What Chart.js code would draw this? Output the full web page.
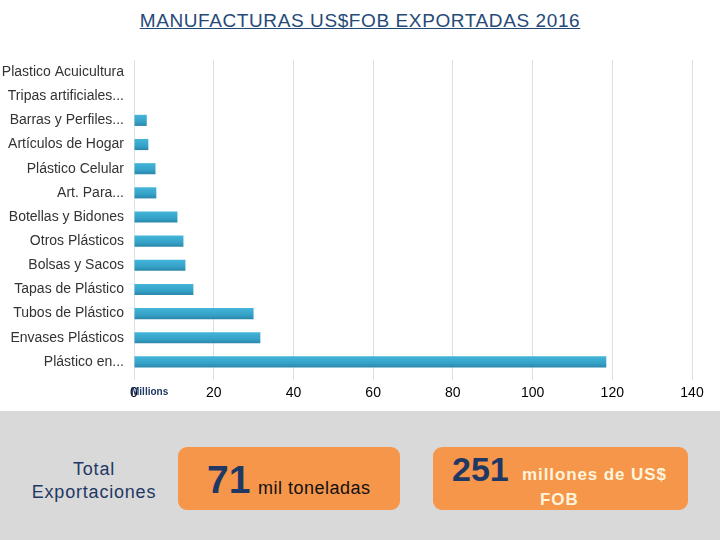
<!DOCTYPE html>
<html>
<head>
<meta charset="utf-8">
<script src="https://cdn.jsdelivr.net/npm/chart.js@4/dist/chart.umd.min.js"></script>
<style>
  body { margin:0; width:720px; height:540px; position:relative; overflow:hidden; background:#fff;
         font-family:"Liberation Sans", Arial, sans-serif; }
  #title { position:absolute; top:11px; left:0; width:720px; text-align:center; font-size:19px; line-height:19px;
           letter-spacing:0.6px; color:#254A78; text-decoration:underline; }
  #wrap { position:absolute; top:40px; left:0; width:720px; height:370px; }
  #bottom { position:absolute; top:411px; left:0; width:720px; height:129px; background:#D9D9D9; }
  .t { position:absolute; white-space:nowrap; }
  .box { position:absolute; top:447px; height:63px; background:#F6964A; border-radius:9px; }
</style>
</head>
<body>
<div id="title">MANUFACTURAS US$FOB EXPORTADAS 2016</div>
<div id="wrap"><canvas id="myChart" width="720" height="370"></canvas></div>
<div id="bottom"></div>
<div class="t" style="left:0;width:188px;top:458px;text-align:center;font-size:18px;line-height:23px;letter-spacing:0.8px;color:#1F3864;">Total<br>Exportaciones</div>
<div class="box" style="left:178px;width:222px;"></div>
<div class="box" style="left:433px;width:255px;"></div>
<div class="t" style="left:207px;top:460px;font-size:39px;line-height:39px;font-weight:bold;color:#1F3864;">71</div>
<div class="t" style="left:258px;top:479px;font-size:18px;line-height:18px;letter-spacing:0.5px;color:#111;">mil toneladas</div>
<div class="t" style="left:452px;top:452px;font-size:34px;line-height:34px;font-weight:bold;color:#1F3864;">251</div>
<div class="t" style="left:522px;top:466px;font-size:17px;line-height:17px;font-weight:bold;letter-spacing:0.9px;color:#FFF4DC;">millones de US$</div>
<div class="t" style="left:540px;top:491px;font-size:17px;line-height:17px;font-weight:bold;letter-spacing:0.9px;color:#FFF4DC;">FOB</div>
<script>
// data (millions US$ FOB)
var categories = ["Plastico Acuicultura", "Tripas artificiales...", "Barras y Perfiles...", "Artículos de Hogar",
                  "Plástico Celular", "Art. Para...", "Botellas y Bidones", "Otros Plásticos", "Bolsas y Sacos",
                  "Tapas de Plástico", "Tubos de Plástico", "Envases Plásticos", "Plástico en..."];
var values = [0, 0, 3.2, 3.6, 5.4, 5.6, 10.9, 12.4, 12.9, 14.9, 30.0, 31.7, 118.5];
var xMin = 0, xMax = 140, xStep = 20;

// bar gradient, light on top, darker bottom
function barColor(c) {
	var chart = c.chart;
	if (!chart.chartArea || !chart.scales.y) return "#37A6CC";
	var y = chart.scales.y.getPixelForValue(c.dataIndex);
	var g = chart.ctx.createLinearGradient(0, y - 6, 0, y + 6);
	g.addColorStop(0, "#45B6DA");
	g.addColorStop(0.6, "#35A2C8");
	g.addColorStop(1, "#2A84A6");
	return g;
}

// small "Millions" unit label over the zero tick
var unitLabel = {
	id: "unitLabel",
	afterDraw: function(chart) {
		var ctx = chart.ctx;
		ctx.save();
		ctx.font = "bold 10px 'Liberation Sans', Arial, sans-serif";
		ctx.fillStyle = "#1F3864";
		ctx.textBaseline = "alphabetic";
		ctx.fillText("Millions", chart.chartArea.left - 3, chart.chartArea.bottom + 21);
		ctx.restore();
	}
};

var chart = new Chart(document.getElementById("myChart").getContext("2d"), {
	type: "bar",
	data: {
		labels: categories,
		datasets: [{
			label: "US$FOB",
			data: values,
			backgroundColor: barColor,
			barPercentage: 0.46,
			categoryPercentage: 1
		}]
	},
	options: {
		indexAxis: "y",
		responsive: false,
		animation: false,
		devicePixelRatio: 1,
		layout: { padding: { top: 20, right: 28, left: 0, bottom: 0 } },
		plugins: { legend: { display: false }, tooltip: { enabled: false } },
		scales: {
			x: {
				min: xMin, max: xMax,
				ticks: { stepSize: xStep, color: "#000", padding: 5,
				         font: { family: "'Liberation Sans', Arial, sans-serif", size: 14 } },
				grid: { color: "#D8E0E8", tickLength: 6 },
				border: { display: false },
				afterFit: function(s) { s.height = 36; }
			},
			y: {
				ticks: { color: "#333", padding: 2, autoSkip: false,
				         font: { family: "'Liberation Sans', Arial, sans-serif", size: 14 } },
				grid: { display: false },
				border: { display: false },
				afterFit: function(s) { s.width = 134; }
			}
		}
	},
	plugins: [unitLabel]
});
</script>
</body>
</html>
